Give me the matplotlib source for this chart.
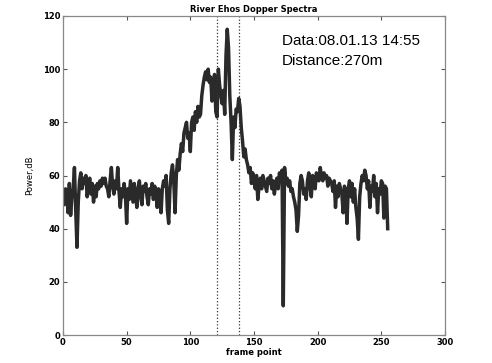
import numpy as np
import matplotlib.pyplot as plt

# Doppler spectrum values (dB) for frame points 0..255
power = [
    52, 49, 55, 53, 46, 57, 45, 52, 55, 63, 47, 33, 50, 58, 61, 55,
    59, 57, 60, 52, 56, 59, 53, 57, 50, 56, 52, 57, 55, 58, 56, 59,
    57, 59, 56, 55, 52, 58, 63, 56, 53, 58, 55, 63, 54, 48, 55, 52,
    57, 53, 42, 55, 51, 58, 54, 50, 57, 53, 48, 55, 58, 52, 49, 56,
    54, 57, 52, 49, 55, 53, 57, 51, 56, 54, 48, 55, 53, 46, 55, 58,
    56, 60, 47, 42, 55, 61, 64, 58, 46, 60, 66, 62, 68, 72, 69, 76,
    78, 80, 74, 76, 69, 80, 82, 77, 84, 80, 86, 82, 83, 90, 94, 97,
    99, 96, 100, 95, 97, 88, 92, 98, 84, 82, 100, 94, 90, 87, 92, 83,
    105, 115, 108, 90, 80, 66, 82, 78, 85, 84, 89, 86, 78, 73, 67, 70,
    66, 64, 61, 63, 57, 61, 58, 55, 60, 51, 56, 59, 55, 60, 58, 56,
    54, 59, 57, 60, 55, 58, 53, 57, 59, 55, 61, 58, 62, 11, 63, 57,
    59, 56, 58, 54, 55, 52, 50, 47, 39, 45, 57, 60, 58, 53, 55, 51,
    58, 61, 56, 52, 60, 57, 55, 61, 59, 58, 63, 60, 58, 61, 59, 60,
    56, 59, 58, 57, 54, 58, 48, 56, 52, 57, 55, 53, 46, 56, 54, 42,
    55, 58, 52, 57, 50, 55, 48, 44, 36, 52, 57, 60, 58, 62, 60, 55,
    58, 48, 56, 54, 60, 52, 57, 46, 55, 53, 58, 57, 44, 56, 55, 40,
]
frames = np.arange(len(power))
marks = [121, 138]   # dotted window limits

fig = plt.figure(figsize=(4.92, 3.63), dpi=100)
ax = fig.add_axes([0.128, 0.077, 0.7765, 0.879])

ax.plot(frames, power, color='#2a2a2a', lw=2.5)
for m in marks:
    ax.axvline(m, color='#333333', lw=0.9, ls=':')

ax.set_xlim(0, 300)
ax.set_ylim(0, 120)
ax.set_xticks(range(0, 301, 50))
ax.set_yticks(range(0, 121, 20))
ax.tick_params(direction='in', top=True, right=True, length=3,
               color='#555555', labelsize=6, pad=2)
for lab in ax.get_xticklabels() + ax.get_yticklabels():
    lab.set_fontweight('bold')
for s in ax.spines.values():
    s.set_color('#888888')
    s.set_linewidth(0.9)

ax.set_title('River Ehos Dopper Spectra', fontsize=6, fontweight='bold', pad=3)
ax.set_xlabel('frame point', fontsize=6, fontweight='bold', labelpad=1)
ax.set_ylabel('Power,dB', fontsize=6, labelpad=6)

ax.text(172, 109, 'Data:08.01.13 14:55', fontsize=11, family='Liberation Sans')
ax.text(172, 101.5, 'Distance:270m', fontsize=11, family='Liberation Sans')

fig.savefig('out.png', dpi=100)
